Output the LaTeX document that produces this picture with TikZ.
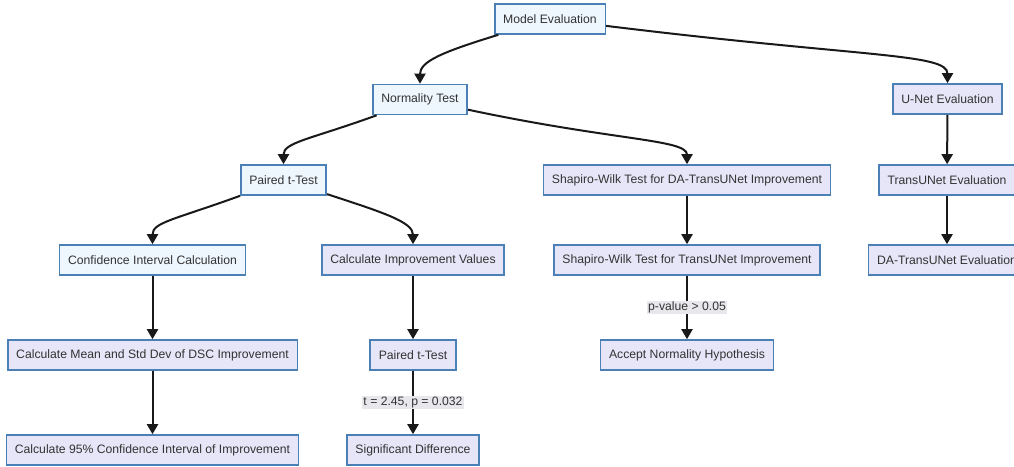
\documentclass[tikz,border=0pt]{standalone}
\usepackage{fontspec}
\setmainfont{Liberation Sans}
\usetikzlibrary{arrows.meta}
\definecolor{edgeblue}{HTML}{4A80B6}
\definecolor{paleblue}{HTML}{EEF6FE}
\definecolor{lavender}{HTML}{E6E6F8}
\definecolor{tagbg}{HTML}{E8E8EC}
\definecolor{ink}{HTML}{333333}
\tikzset{
  box/.style={draw=edgeblue, line width=1.6pt, minimum height=30pt,
    inner xsep=8.5pt, inner ysep=0pt, font=\fontsize{12.2pt}{14pt}\selectfont,
    text=ink, anchor=center},
  rootbox/.style={box, fill=paleblue},
  leafbox/.style={box, fill=lavender},
  flow/.style={line width=2pt, draw=black!90, -{Triangle[length=10pt,width=11pt]}},
  tag/.style={fill=tagbg, inner sep=1pt, text=ink,
    font=\fontsize{12.2pt}{14pt}\selectfont}
}
\begin{document}
\begin{tikzpicture}[x=1pt,y=-1pt]
\useasboundingbox (0,0) rectangle (1014,466);
\clip (0,0) rectangle (1014,466);
\fill[white] (0,0) rectangle (1014,466);

% top level
\node[rootbox] (me) at (550,19) {Model Evaluation};
\node[rootbox] (nt) at (420,99.5) {Normality Test};
\node[leafbox] (un) at (947.5,99) {U-Net Evaluation};

% second level
\node[rootbox] (pt) at (283.5,180) {Paired t-Test};
\node[leafbox] (swda) at (687,180) {Shapiro-Wilk Test for DA-TransUNet Improvement};
\node[leafbox] (tu) at (947,180) {TransUNet Evaluation};

% third level
\node[rootbox] (ci) at (152.5,260) {Confidence Interval Calculation};
\node[leafbox] (civ) at (413,260) {Calculate Improvement Values};
\node[leafbox] (swtu) at (687,260) {Shapiro-Wilk Test for TransUNet Improvement};
\node[leafbox] (datu) at (947,260) {DA-TransUNet Evaluation};

% fourth level
\node[leafbox] (msd) at (152.5,355) {Calculate Mean and Std Dev of DSC Improvement};
\node[leafbox] (pt2) at (413,355) {Paired t-Test};
\node[leafbox] (anh) at (687,355) {Accept Normality Hypothesis};

% fifth level
\node[leafbox] (c95) at (152.5,450) {Calculate 95\% Confidence Interval of Improvement};
\node[leafbox] (sd) at (413,450) {Significant Difference};

% curved branches
\draw[flow] (me) to[out=197, in=90, out distance=60pt, in distance=22pt] (nt.north);
\draw[flow] (me) to[out=-7, in=90, out distance=260pt, in distance=30pt] (un.north);
\draw[flow] (nt) to[out=200, in=90, out distance=70pt, in distance=22pt] (pt.north);
\draw[flow] (nt) to[out=-12, in=90, out distance=150pt, in distance=25pt] (swda.north);
\draw[flow] (pt) to[out=200, in=90, out distance=70pt, in distance=22pt] (ci.north);
\draw[flow] (pt) to[out=-18, in=90, out distance=60pt, in distance=22pt] (civ.north);

% straight chains
\draw[flow] (un) -- (tu);
\draw[flow] (tu) -- (datu);
\draw[flow] (swda) -- (swtu);
\draw[flow] (swtu) -- node[tag] {p-value > 0.05} (anh);
\draw[flow] (ci) -- (msd);
\draw[flow] (msd) -- (c95);
\draw[flow] (civ) -- (pt2);
\draw[flow] (pt2) -- node[tag] {t = 2.45, p = 0.032} (sd);
\end{tikzpicture}
\end{document}
